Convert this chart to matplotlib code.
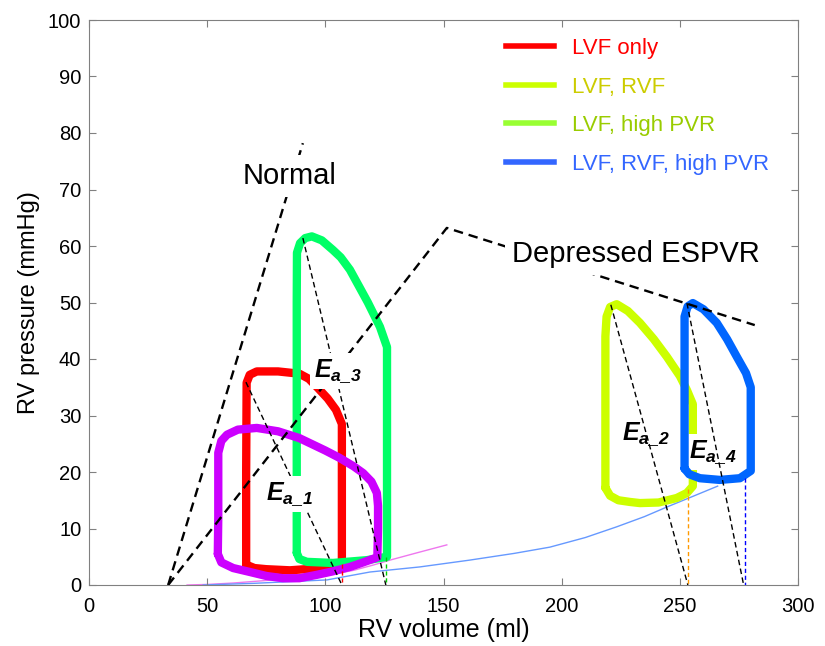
import numpy as np
import matplotlib
matplotlib.use('Agg')
import matplotlib.pyplot as plt
from matplotlib.lines import Line2D

plt.rcParams['font.family'] = ['Liberation Sans', 'DejaVu Sans']
plt.rcParams['mathtext.fontset'] = 'custom'
plt.rcParams['mathtext.it'] = 'Liberation Sans:italic:bold'
plt.rcParams['mathtext.rm'] = 'Liberation Sans:italic:bold'
plt.rcParams['mathtext.bf'] = 'Liberation Sans:italic:bold'

# Bucles presión-volumen (ml, mmHg)
red_v = [66.5, 70, 75, 85, 95, 102, 107, 107, 107, 107, 104.5, 101, 97, 93, 89, 80, 71, 68, 66.7, 66.5, 66.5]
red_p = [3.6, 3.0, 2.8, 2.6, 2.9, 3.4, 4.0, 12, 20, 28.5, 31, 33, 34.8, 36.5, 37.4, 37.8, 37.8, 37.2, 35.8, 20, 3.6]

purple_v = [54.5, 56, 61, 68.1, 75, 82, 89, 96.4, 103, 110.4, 116, 122, 122.3, 122.3, 121.8, 119.5, 116, 112, 106, 100, 89, 80,
            71, 63, 58.4, 56, 54.7, 54.7, 54.5]
purple_p = [5.5, 4.0, 3.0, 2.3, 1.6, 1.2, 1.2, 1.8, 2.4, 3.2, 4.0, 4.9, 10, 14, 16.3, 18.3, 19.8, 21.0, 22.5, 23.8, 26.0, 27.2,
            27.8, 27.5, 26.6, 25.5, 23.4, 12, 5.5]

green_v = [87.9, 89, 92.2, 103.2, 117.6, 126.1, 126.1, 126.1, 123.1, 118, 114.6, 110.4, 106.5, 103.2, 98.5, 94.3, 91.5, 89.3,
           88, 87.9, 87.9, 87.9]
green_p = [5.7, 4.6, 4.1, 3.9, 4.4, 5.0, 20, 42.1, 45.7, 50, 52.6, 55.8, 58.0, 59.3, 61.0, 61.7, 61.4, 60.5, 58.8, 50, 20, 5.7]

yellow_v = [218.5, 220.5, 224, 228.9, 233.1, 241, 248.7, 253, 255.5, 255.5, 255.5, 253, 250, 244.5, 239, 233.1, 228, 223.3,
            220.5, 219, 218.5, 218.5, 218.5]
yellow_p = [17.2, 15.8, 15.0, 14.7, 14.5, 14.6, 15.4, 16.3, 17.5, 25, 32, 34.5, 37.0, 40.4, 43.5, 46.4, 48.5, 49.7, 49.2,
            47.5, 44, 30, 17.2]

blue_v = [252, 254, 258.5, 266.9, 275.4, 280, 280, 280, 278, 274.1, 270, 265.6, 260, 255.5, 253.3, 252, 252, 252]
blue_p = [20.6, 19.6, 18.9, 18.6, 18.9, 20.2, 28, 35, 37.5, 40.4, 43.5, 46.4, 48.8, 49.9, 49.3, 47.5, 35, 20.6]

# Curvas EDPVR (finas)
edpvr1_v = [41.5, 50, 61, 75, 88, 100.7, 112, 120, 127.3, 138.8, 151.4]
edpvr1_p = [0, 0.1, 0.35, 0.8, 1.2, 1.7, 2.6, 3.5, 4.4, 5.7, 7.1]
edpvr2_v = [48.3, 70, 100.7, 118.9, 140, 161, 180, 195, 210, 223.3, 235, 244.5, 255, 266]
edpvr2_p = [0, 0.3, 0.9, 2.3, 3.2, 4.4, 5.6, 6.7, 8.4, 10.3, 12.1, 13.8, 15.6, 17.5]

# ESPVR
normal_v = [33.5, 90.5]
normal_p = [0, 78.2]
depressed_v = [33.5, 151.4, 281.7]
depressed_p = [0, 63.2, 46.0]

# Elastancia arterial Ea: (V_es, P_es) -> (V_ed, 0)
ea_v = [[66.4, 107], [90.5, 125.6], [220.8, 253.4], [253, 277]]
ea_p = [[35.9, 0], [61.4, 0], [49.6, 0], [49.9, 0]]

# volúmenes telediastólicos (líneas verticales de color)
ed_v = [107, 125.8, 253.4, 277.5]
ed_p = [3.8, 5.0, 17.0, 19.0]
ed_colors = ['#ff0000', '#00cc00', '#ff9900', '#0000ff']

legend_labels = ['LVF only', 'LVF, RVF', 'LVF, high PVR', 'LVF, RVF, high PVR']
legend_line_colors = ['#ff0000', '#ccff00', '#99ff33', '#3366ff']
legend_text_colors = ['#ff0000', '#cccc00', '#99cc00', '#3366ff']

fig = plt.figure(figsize=(8.25, 6.46), dpi=100)
ax = fig.add_axes([89/825, 61/646, 709/825, 565/646])

# curvas finas
ax.plot(edpvr1_v, edpvr1_p, color='#ee77ee', lw=1.0, zorder=1.5)
ax.plot(edpvr2_v, edpvr2_p, color='#6699ff', lw=1.0, zorder=1.5)

# bucles
lw_loop = 6
ax.plot(red_v, red_p, color='#ff0000', lw=lw_loop, solid_joinstyle='round', solid_capstyle='round', zorder=2.0)
ax.plot(green_v, green_p, color='#00ff66', lw=lw_loop, solid_joinstyle='round', solid_capstyle='round', zorder=2.1)
ax.plot(purple_v, purple_p, color='#cc00ff', lw=lw_loop, solid_joinstyle='round', solid_capstyle='round', zorder=2.2)
ax.plot(yellow_v, yellow_p, color='#ccff00', lw=lw_loop, solid_joinstyle='round', solid_capstyle='round', zorder=2.3)
ax.plot(blue_v, blue_p, color='#0066ff', lw=lw_loop, solid_joinstyle='round', solid_capstyle='round', zorder=2.6)

# líneas ESPVR
ax.plot(normal_v, normal_p, color='black', lw=1.7, ls=(0, (4, 2.5)), zorder=4)
ax.plot(depressed_v, depressed_p, color='black', lw=1.7, ls=(0, (4, 2.5)), zorder=4)

# Ea
for v, p in zip(ea_v, ea_p):
    ax.plot(v, p, color='black', lw=1.0, ls=(0, (4, 2.5)), zorder=4)

for v, p, c in zip(ed_v, ed_p, ed_colors):
    ax.plot([v, v], [p, 0], color=c, lw=1.0, ls=(0, (3, 2)), zorder=4)

white_big = dict(facecolor='white', edgecolor='none', pad=5)
white = dict(facecolor='white', edgecolor='none', pad=3)
ax.text(84.8, 72.4, 'Normal', fontsize=21, ha='center', va='center', bbox=white_big, zorder=5)
ax.text(231.4, 58.6, 'Depressed ESPVR', fontsize=21, ha='center', va='center', bbox=white_big, zorder=5)

ax.text(85, 16.1, r'$E_{a\_1}$', fontsize=18, ha='center', va='center', bbox=white, zorder=5)
ax.text(105.3, 37.9, r'$E_{a\_3}$', fontsize=18, ha='center', va='center', bbox=white, zorder=5)
ax.text(235.6, 26.7, r'$E_{a\_2}$', fontsize=18, ha='center', va='center', bbox=white, zorder=2.5)
ax.text(264, 23.5, r'$E_{a\_4}$', fontsize=18, ha='center', va='center', bbox=white, zorder=2.5)

ax.set_xlim(0, 300)
ax.set_ylim(0, 100)
ax.set_xticks(np.arange(0, 301, 50))
ax.set_yticks(np.arange(0, 101, 10))
ax.tick_params(direction='in', top=True, right=True, length=5, color='#808080', labelsize=14.5)
ax.tick_params(axis='x', pad=9)
ax.tick_params(axis='y', pad=5.5)
for s in ax.spines.values():
    s.set_color('#808080')
ax.set_xlabel('RV volume (ml)', fontsize=18, labelpad=1)
ax.set_ylabel('RV pressure (mmHg)', fontsize=17, labelpad=6)

handles = [Line2D([], [], color=c, lw=4) for c in legend_line_colors]
ax.legend(handles, legend_labels, loc='upper left', bbox_to_anchor=(0.588, 0.968), frameon=False,
          fontsize=16, labelcolor=legend_text_colors, handlelength=2.16, handletextpad=0.8,
          labelspacing=0.79, borderpad=0, borderaxespad=0)

fig.savefig('out.png', dpi=100)
